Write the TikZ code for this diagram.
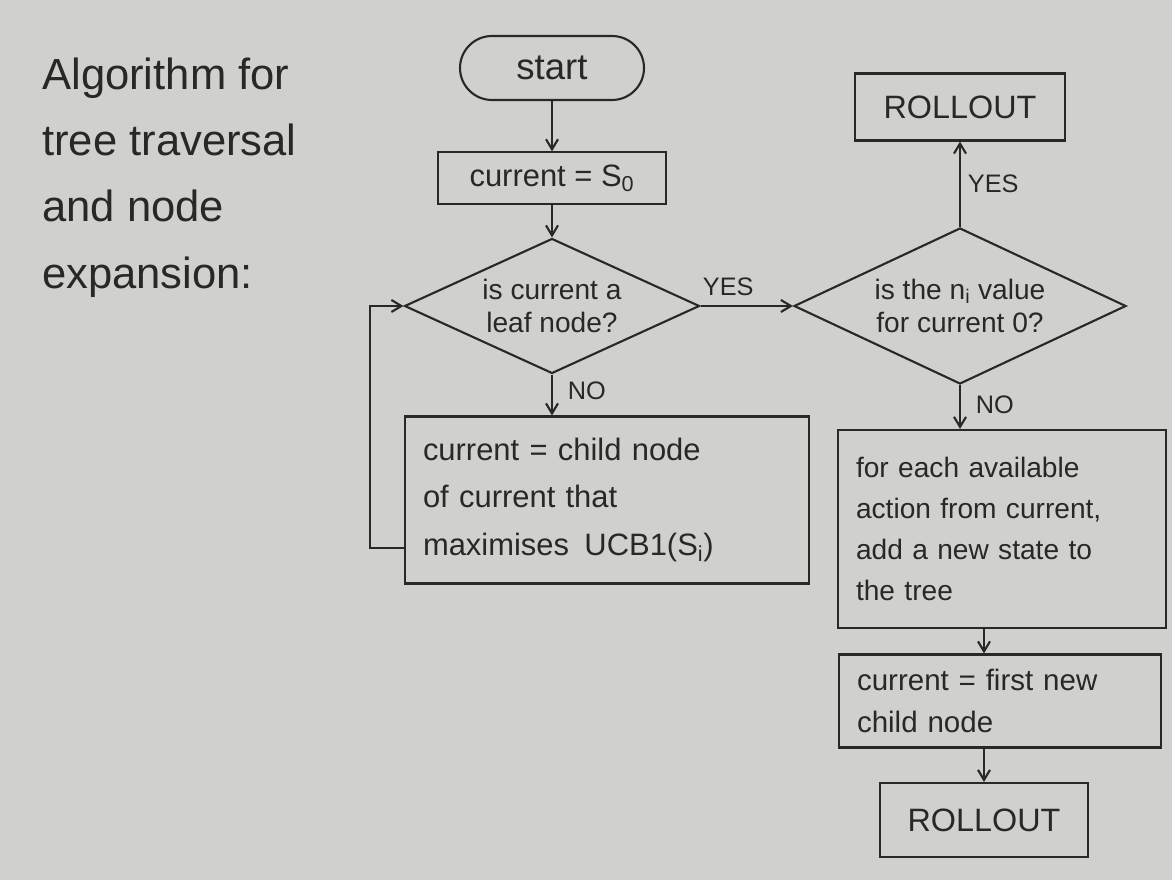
\documentclass[tikz,border=0pt]{standalone}
\usepackage{fontspec}
\setmainfont{Liberation Sans}
\usetikzlibrary{shapes.geometric,arrows.meta}
\definecolor{ink}{RGB}{40,40,40}
\definecolor{board}{RGB}{208,208,205}
\begin{document}
\begin{tikzpicture}[
  box/.style={
    draw=ink,
    line width=1.5pt,
    text=ink,
    inner xsep=0.45cm,
    inner ysep=4pt
  },
  boxtext/.style={box, align=left, font=\fontsize{22}{34}\selectfont},
  terminal/.style={box, rounded corners=8mm, font=\fontsize{26}{30}\selectfont},
  decision/.style={
    draw=ink,
    line width=1.5pt,
    text=ink,
    diamond,
    inner sep=0pt,
    align=center,
    font=\fontsize{20}{24}\selectfont
  },
  lbl/.style={text=ink, inner sep=2pt, font=\fontsize{18}{20}\selectfont},
  arrow/.style={-{Straight Barb[length=2.5mm,width=3mm]}, line width=1.5pt, draw=ink}
]
\useasboundingbox[fill=board] (0,0) rectangle (29.3,22);

\node[text=ink, anchor=north west, align=left, inner sep=0pt,
  font=\fontsize{31}{47}\selectfont] (title) at (1.05,20.55)
  {Algorithm for\\tree traversal\\and node\\expansion:};

\node[terminal, minimum width=4.6cm, minimum height=1.6cm] (start) at (13.8,20.3) {start};
\node[box, minimum width=5.7cm, minimum height=1.28cm, font=\fontsize{22}{26}\selectfont] (s0) at (13.8,17.55) {current = S\textsubscript{0}};
\node[decision, shape aspect=2.4, minimum width=7.375cm, minimum height=3.375cm] (d1) at (13.8,14.35) {is current a\\leaf node?};
\node[decision, shape aspect=2.3, minimum width=8.3cm, minimum height=3.9cm] (d2) at (24.0,14.35) {is the n\textsubscript{i} value\\for current 0?};
\node[box, minimum width=5.25cm, minimum height=1.675cm, font=\fontsize{23}{26}\selectfont] (rollT) at (24.0,19.325) {ROLLOUT};
\node[boxtext, text width=9.2cm, minimum height=4.175cm] (ucb) at (15.175,9.5)
  {current = child node\\of current that\\maximises \,UCB1(S\textsubscript{i})};
\node[boxtext, text width=7.3cm, minimum height=4.95cm, font=\fontsize{20}{29}\selectfont] (expand) at (25.05,8.775)
  {for each available\\action from current,\\add a new state to\\the tree};
\node[boxtext, text width=7.15cm, minimum height=2.325cm, font=\fontsize{21}{30}\selectfont] (first) at (25.0,4.475)
  {current = first new\\child node};
\node[box, minimum width=5.2cm, minimum height=1.85cm, font=\fontsize{23}{26}\selectfont] (rollB) at (24.6,1.5) {ROLLOUT};

\coordinate (loop) at (9.25,8.3);

\draw[arrow] (start) -- (s0);
\draw[arrow] (s0) -- (d1);
\draw[arrow] (d1) -- node[lbl, pos=0.3, above=1.5mm] {YES} (d2);
\draw[arrow] (d2) -- node[lbl, midway, right=1mm] {YES} (rollT);
\draw[arrow] (d1.south) -- node[lbl, pos=0.4, right=3mm] {NO} (d1.south |- ucb.north);
\draw[arrow] (d2.south) -- node[lbl, pos=0.45, right=3mm] {NO} (d2.south |- expand.north);
\draw[arrow] (ucb.west |- loop) -- (loop) |- (d1.west);
\draw[arrow] (expand.south -| rollB) -- (first.north -| rollB);
\draw[arrow] (first.south -| rollB) -- (rollB);
\end{tikzpicture}
\end{document}
